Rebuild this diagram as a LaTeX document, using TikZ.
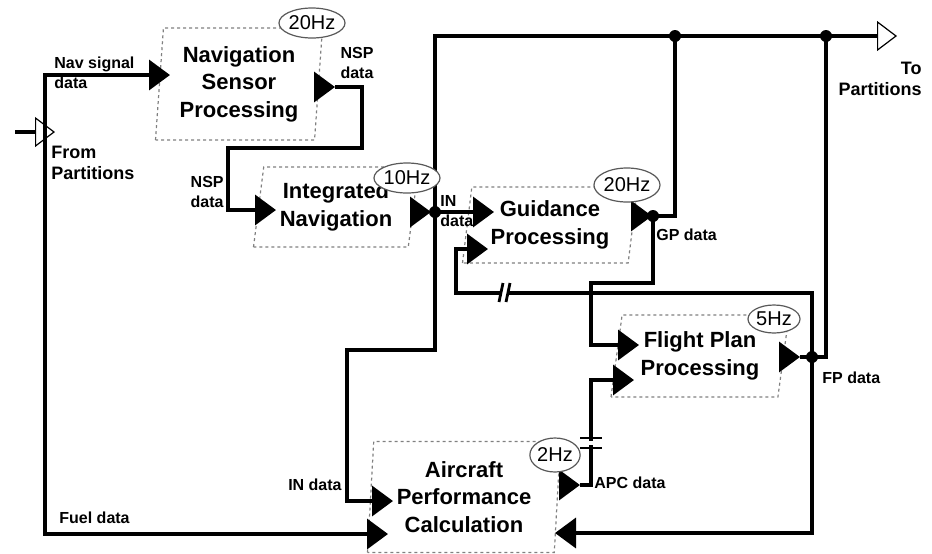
\documentclass[tikz,border=0pt]{standalone}
\usepackage{fontspec}
\setmainfont{Liberation Sans}
\usetikzlibrary{arrows.meta,shapes.geometric}

\tikzset{
  tri/.tip={Triangle[length=10.5pt,width=15pt]},
  opentri/.tip={Triangle[open,fill=white,length=10pt,width=15pt,line width=0.6pt]},
  flow/.style={line width=1.8pt},
  procbox/.style={trapezium, draw=gray, dash pattern=on 1.5pt off 1.5pt, line width=0.6pt,
    trapezium stretches body, align=center, inner sep=0pt,
    font=\fontsize{11}{13.75}\selectfont\bfseries},
  rate/.style={ellipse, draw=gray!70!black, fill=white, line width=0.6pt,
    inner sep=0pt, font=\fontsize{10}{11}\selectfont},
  lbl/.style={inner sep=0pt, font=\fontsize{8}{10}\selectfont\bfseries},
  bigl/.style={inner sep=0pt, font=\fontsize{9}{10.5}\selectfont\bfseries},
  dot/.style={circle, fill, inner sep=0pt, minimum size=6pt},
}

\begin{document}
\begin{tikzpicture}[x=0.5pt,y=-0.5pt]
  \useasboundingbox (0,0) rectangle (932,553);

  % processes
  \node[procbox, minimum width=83.5pt, minimum height=56pt,
        trapezium left angle=84, trapezium right angle=96]
        (nsp) at (239,84) {Navigation\\Sensor\\Processing};
  \node[procbox, minimum width=82.5pt, minimum height=40pt,
        trapezium left angle=78, trapezium right angle=102]
        (inav) at (336,207) {Integrated\\Navigation};
  \node[procbox, minimum width=87.5pt, minimum height=38pt,
        trapezium left angle=79, trapezium right angle=101]
        (gp) at (550,225) {Guidance\\Processing};
  \node[procbox, minimum width=89pt, minimum height=41pt,
        trapezium left angle=77, trapezium right angle=103]
        (fpp) at (700,356) {Flight Plan\\Processing};
  \node[procbox, minimum width=96.5pt, minimum height=55.5pt,
        trapezium left angle=85, trapezium right angle=95]
        (apc) at (464,497) {Aircraft\\Performance\\Calculation};

  % ports and bends
  \coordinate (src)      at (15,132);
  \coordinate (src tip)  at (55,132);
  \coordinate (bus bot)  at (45,534);
  \coordinate (nsp in)   at (170,75);
  \coordinate (nsp ob)   at (314,87);
  \coordinate (nsp o)    at (335,87);
  \coordinate (k1)       at (362,148);
  \coordinate (k2)       at (228,210);
  \coordinate (inav in)  at (276,210);
  \coordinate (inav ob)  at (410,212);
  \coordinate (inav o)   at (431,212);
  \coordinate (in dot)   at (435,212);
  \coordinate (gp in)    at (494,212);
  \coordinate (gp in2)   at (488,249);
  \coordinate (out tip)  at (897,36);
  \coordinate (k3)       at (347,350);
  \coordinate (apc in)   at (393,501);
  \coordinate (apc fin)  at (388,534);
  \coordinate (apc rin)  at (555,533);
  \coordinate (gp ob)    at (631,216);
  \coordinate (gp o)     at (652,216);
  \coordinate (gp dot)   at (653,216);
  \coordinate (gp top)   at (675,36);
  \coordinate (k4)       at (591,283);
  \coordinate (fpp in)   at (639,345);
  \coordinate (fpp in2)  at (634,380);
  \coordinate (fpp ob)   at (779,357);
  \coordinate (fpp o)    at (800,357);
  \coordinate (fp dot)   at (812,357);
  \coordinate (fp top)   at (826,36);
  \coordinate (k5)       at (456,293);
  \coordinate (apc ob)   at (559,485);
  \coordinate (apc o)    at (580,485);
  \coordinate (k6)       at (591,380);

  % connectors
  \draw[flow,-opentri] (src) -- (src tip);
  \draw[flow,tri-tri] (nsp in) -| (bus bot) -- (apc fin);
  \draw[flow,-tri] (nsp ob) -- (nsp o);
  \draw[flow,-tri] (nsp o) -| (k1) -| (k2) -- (inav in);
  \draw[flow,-tri] (inav ob) -- (inav o);
  \draw[flow,-tri] (inav o) -- (gp in);
  \draw[flow,-opentri] (in dot) |- (out tip);
  \draw[flow,-tri] (in dot) |- (k3) |- (apc in);
  \draw[flow,-tri] (gp ob) -- (gp o);
  \draw[flow] (gp o) -- (gp dot) -| (gp top);
  \draw[flow,-tri] (gp dot) |- (k4) |- (fpp in);
  \draw[flow,-tri] (fpp ob) -- (fpp o);
  \draw[flow] (fpp o) -- (fp dot) -| (fp top);
  \draw[flow,-tri] (fp dot) |- (k5) |- (gp in2);
  \draw[flow,-tri] (fp dot) |- (apc rin);
  \draw[flow,-tri] (apc ob) -- (apc o);
  \draw[flow,-tri] (apc o) -| (k6) -- (fpp in2);

  % delay marks
  \fill[white] (502,285) rectangle (507,301);
  \draw[line width=1.4pt] (499,302) -- (503,283) (506,302) -- (510,283);
  \fill[white] (584,441) rectangle (598,445);
  \draw[line width=1.4pt] (580,438) -- (602,438) (580,448) -- (602,448);

  % rates
  \node[rate, minimum width=31pt, minimum height=15pt] (nsp hz)  at (312,23)  {20Hz};
  \node[rate, minimum width=30pt, minimum height=15pt] (inav hz) at (407,178) {10Hz};
  \node[rate, minimum width=31.5pt, minimum height=17pt] (gp hz) at (627,185) {20Hz};
  \node[rate, minimum width=26pt, minimum height=14pt] (fpp hz)  at (774,319) {5Hz};
  \node[rate, minimum width=25pt, minimum height=17pt] (apc hz)  at (555,455) {2Hz};

  % junctions
  \node[dot] (d1) at (in dot) {};
  \node[dot] (d2) at (gp dot) {};
  \node[dot] (d3) at (fp dot) {};
  \node[dot] (d4) at (gp top) {};
  \node[dot] (d5) at (fp top) {};

  % labels
  \node[lbl, align=left, anchor=west]  (l nav)  at (54,73)   {Nav signal\\data};
  \node[lbl, align=center]             (l nsp1) at (357,63)  {NSP\\data};
  \node[lbl, align=right, anchor=east] (l nsp2) at (224,192) {NSP\\data};
  \node[lbl, align=left, anchor=west]  (l in1)  at (440,211) {IN\\data};
  \node[lbl, anchor=west]              (l gp)   at (656,235) {GP data};
  \node[lbl, anchor=west]              (l fp)   at (822,378) {FP data};
  \node[lbl, anchor=west]              (l apc)  at (594,483) {APC data};
  \node[lbl, anchor=east]              (l in2)  at (342,485) {IN data};
  \node[lbl, anchor=west]              (l fuel) at (59,518)  {Fuel data};
  \node[bigl, align=left, anchor=west] (l from) at (51,163)  {From\\Partitions};
  \node[bigl, align=right, anchor=east](l to)   at (922,79)  {To\\Partitions};
\end{tikzpicture}
\end{document}
